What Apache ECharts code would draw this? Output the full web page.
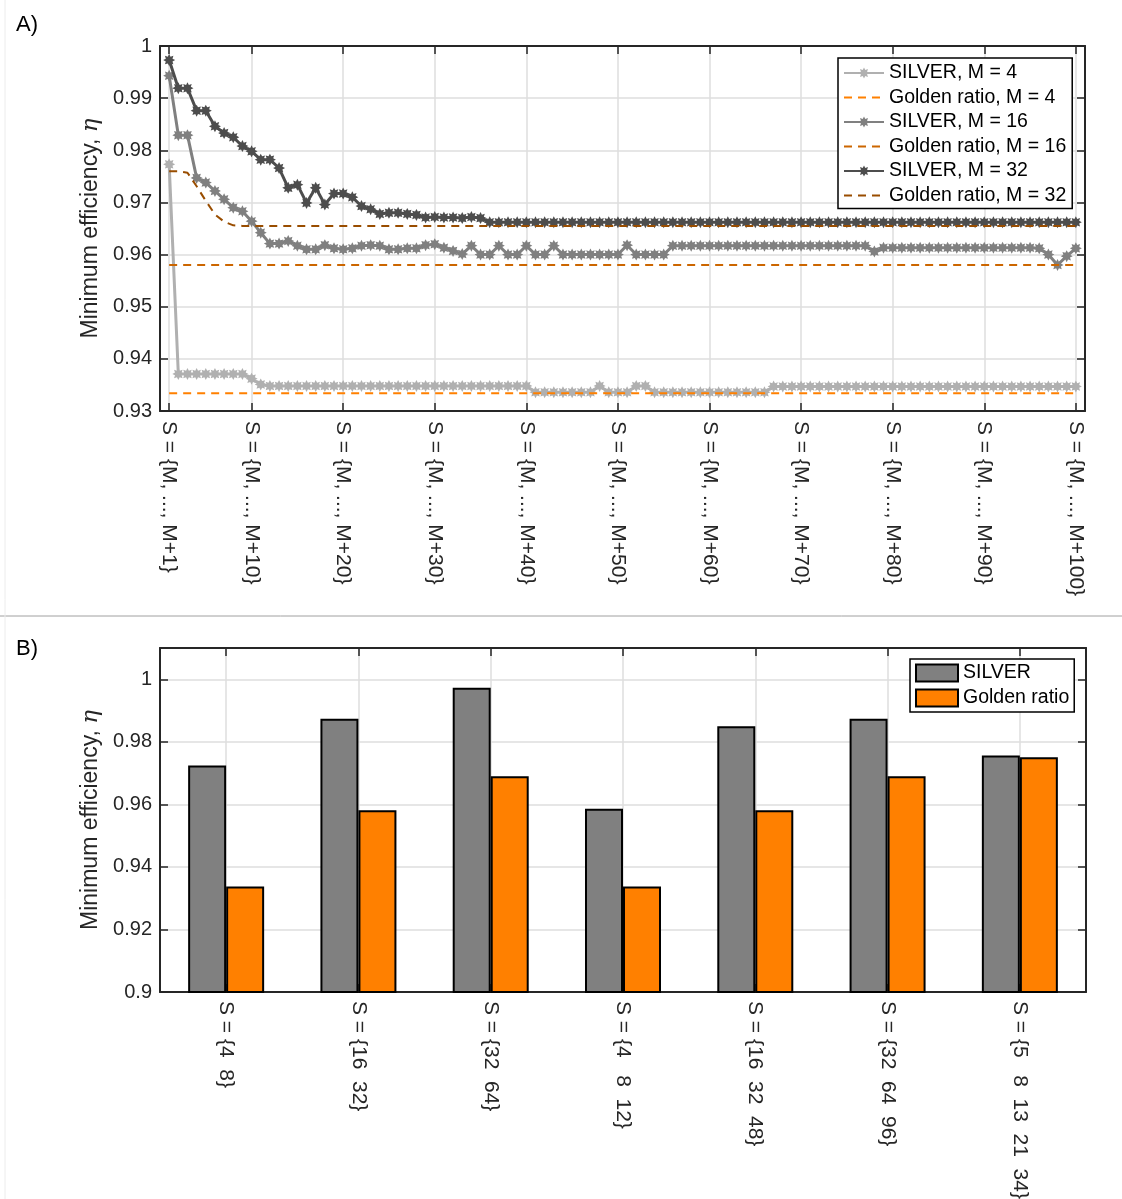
<!DOCTYPE html>
<html><head><meta charset="utf-8">
<script src="https://cdn.jsdelivr.net/npm/echarts@6/dist/echarts.min.js"></script>
<style>html,body{margin:0;padding:0;background:#fff}#c{width:1122px;height:1199px}</style>
</head><body><div id="c"></div>
<script>
// ---------- Panel A data (x = k, S = {M, ..., M+k}, k = 1..100) ----------
const xTickValues = [1, 10, 20, 30, 40, 50, 60, 70, 80, 90, 100];
const xTickLabels = ['S = {M, ..., M+1}', 'S = {M, ..., M+10}', 'S = {M, ..., M+20}', 'S = {M, ..., M+30}',
  'S = {M, ..., M+40}', 'S = {M, ..., M+50}', 'S = {M, ..., M+60}', 'S = {M, ..., M+70}',
  'S = {M, ..., M+80}', 'S = {M, ..., M+90}', 'S = {M, ..., M+100}'];

const silverM4 = [
0.9773,0.9371,0.9371,0.9371,0.9371,0.9371,0.9371,0.9371,0.9371,0.9362,
0.9351,0.9348,0.9348,0.9348,0.9348,0.9348,0.9348,0.9348,0.9348,0.9348,
0.9348,0.9348,0.9348,0.9348,0.9348,0.9348,0.9348,0.9348,0.9348,0.9348,
0.9348,0.9348,0.9348,0.9348,0.9348,0.9348,0.9348,0.9348,0.9348,0.9348,
0.9336,0.9336,0.9336,0.9336,0.9336,0.9336,0.9336,0.9348,0.9336,0.9336,
0.9336,0.9348,0.9348,0.9336,0.9336,0.9336,0.9336,0.9336,0.9336,0.9336,
0.9336,0.9336,0.9336,0.9336,0.9336,0.9336,0.9347,0.9347,0.9347,0.9347,
0.9347,0.9347,0.9347,0.9347,0.9347,0.9347,0.9347,0.9347,0.9347,0.9347,
0.9347,0.9347,0.9347,0.9347,0.9347,0.9347,0.9347,0.9347,0.9347,0.9347,
0.9347,0.9347,0.9347,0.9347,0.9347,0.9347,0.9347,0.9347,0.9347,0.9347];

const goldenM4 = [
0.9334,0.9334,0.9334,0.9334,0.9334,0.9334,0.9334,0.9334,0.9334,0.9334,
0.9334,0.9334,0.9334,0.9334,0.9334,0.9334,0.9334,0.9334,0.9334,0.9334,
0.9334,0.9334,0.9334,0.9334,0.9334,0.9334,0.9334,0.9334,0.9334,0.9334,
0.9334,0.9334,0.9334,0.9334,0.9334,0.9334,0.9334,0.9334,0.9334,0.9334,
0.9334,0.9334,0.9334,0.9334,0.9334,0.9334,0.9334,0.9334,0.9334,0.9334,
0.9334,0.9334,0.9334,0.9334,0.9334,0.9334,0.9334,0.9334,0.9334,0.9334,
0.9334,0.9334,0.9334,0.9334,0.9334,0.9334,0.9334,0.9334,0.9334,0.9334,
0.9334,0.9334,0.9334,0.9334,0.9334,0.9334,0.9334,0.9334,0.9334,0.9334,
0.9334,0.9334,0.9334,0.9334,0.9334,0.9334,0.9334,0.9334,0.9334,0.9334,
0.9334,0.9334,0.9334,0.9334,0.9334,0.9334,0.9334,0.9334,0.9334,0.9334];

const silverM16 = [
0.9943,0.9829,0.9829,0.9747,0.9738,0.9722,0.9706,0.9690,0.9683,0.9664,
0.9642,0.9621,0.9621,0.9626,0.9617,0.9610,0.9610,0.9618,0.9612,0.9610,
0.9612,0.9617,0.9618,0.9617,0.9610,0.9610,0.9612,0.9612,0.9618,0.9620,
0.9613,0.9607,0.9601,0.9617,0.9600,0.9600,0.9617,0.9600,0.9600,0.9617,
0.9600,0.9600,0.9617,0.9600,0.9600,0.9600,0.9600,0.9600,0.9600,0.9600,
0.9618,0.9600,0.9600,0.9600,0.9600,0.9617,0.9617,0.9617,0.9617,0.9617,
0.9617,0.9617,0.9617,0.9617,0.9617,0.9617,0.9617,0.9617,0.9617,0.9617,
0.9617,0.9617,0.9617,0.9617,0.9617,0.9617,0.9617,0.9606,0.9613,0.9613,
0.9613,0.9613,0.9613,0.9613,0.9613,0.9613,0.9613,0.9613,0.9613,0.9613,
0.9613,0.9613,0.9613,0.9613,0.9613,0.9612,0.9600,0.9580,0.9597,0.9612];

const goldenM16 = [
0.9580,0.9580,0.9580,0.9580,0.9580,0.9580,0.9580,0.9580,0.9580,0.9580,
0.9580,0.9580,0.9580,0.9580,0.9580,0.9580,0.9580,0.9580,0.9580,0.9580,
0.9580,0.9580,0.9580,0.9580,0.9580,0.9580,0.9580,0.9580,0.9580,0.9580,
0.9580,0.9580,0.9580,0.9580,0.9580,0.9580,0.9580,0.9580,0.9580,0.9580,
0.9580,0.9580,0.9580,0.9580,0.9580,0.9580,0.9580,0.9580,0.9580,0.9580,
0.9580,0.9580,0.9580,0.9580,0.9580,0.9580,0.9580,0.9580,0.9580,0.9580,
0.9580,0.9580,0.9580,0.9580,0.9580,0.9580,0.9580,0.9580,0.9580,0.9580,
0.9580,0.9580,0.9580,0.9580,0.9580,0.9580,0.9580,0.9580,0.9580,0.9580,
0.9580,0.9580,0.9580,0.9580,0.9580,0.9580,0.9580,0.9580,0.9580,0.9580,
0.9580,0.9580,0.9580,0.9580,0.9580,0.9580,0.9580,0.9580,0.9580,0.9580];

const silverM32 = [
0.9973,0.9919,0.9919,0.9876,0.9876,0.9846,0.9833,0.9825,0.9808,0.9798,
0.9782,0.9782,0.9766,0.9728,0.9734,0.9699,0.9728,0.9696,0.9717,0.9717,
0.9710,0.9693,0.9687,0.9678,0.9680,0.9680,0.9678,0.9676,0.9671,0.9672,
0.9671,0.9671,0.9670,0.9672,0.9670,0.9662,0.9662,0.9662,0.9662,0.9662,
0.9662,0.9662,0.9662,0.9662,0.9662,0.9662,0.9662,0.9662,0.9662,0.9662,
0.9662,0.9662,0.9662,0.9662,0.9662,0.9662,0.9662,0.9662,0.9662,0.9662,
0.9662,0.9662,0.9662,0.9662,0.9662,0.9662,0.9662,0.9662,0.9662,0.9662,
0.9662,0.9662,0.9662,0.9662,0.9662,0.9662,0.9662,0.9662,0.9662,0.9662,
0.9662,0.9662,0.9662,0.9662,0.9662,0.9662,0.9662,0.9662,0.9662,0.9662,
0.9662,0.9662,0.9662,0.9662,0.9662,0.9662,0.9662,0.9662,0.9662,0.9662];

const goldenM32 = [
0.9760,0.9760,0.9757,0.9731,0.9703,0.9677,0.9663,0.9656,0.9655,0.9655,
0.9655,0.9655,0.9655,0.9655,0.9655,0.9655,0.9655,0.9655,0.9655,0.9655,
0.9655,0.9655,0.9655,0.9655,0.9655,0.9655,0.9655,0.9655,0.9655,0.9655,
0.9655,0.9655,0.9655,0.9655,0.9655,0.9655,0.9655,0.9655,0.9655,0.9655,
0.9655,0.9655,0.9655,0.9655,0.9655,0.9655,0.9655,0.9655,0.9655,0.9655,
0.9655,0.9655,0.9655,0.9655,0.9655,0.9655,0.9655,0.9655,0.9655,0.9655,
0.9655,0.9655,0.9655,0.9655,0.9655,0.9655,0.9655,0.9655,0.9655,0.9655,
0.9655,0.9655,0.9655,0.9655,0.9655,0.9655,0.9655,0.9655,0.9655,0.9655,
0.9655,0.9655,0.9655,0.9655,0.9655,0.9655,0.9655,0.9655,0.9655,0.9655,
0.9655,0.9655,0.9655,0.9655,0.9655,0.9655,0.9655,0.9655,0.9655,0.9655];

// ---------- Panel B data ----------
const barCategories = ['S = {4  8}', 'S = {16  32}', 'S = {32  64}', 'S = {4   8  12}',
  'S = {16  32  48}', 'S = {32  64  96}', 'S = {5   8  13  21  34}'];
const barSilver = [0.9724, 0.9874, 0.9973, 0.9586, 0.9850, 0.9874, 0.9756];
const barGolden = [0.9337, 0.9581, 0.9690, 0.9337, 0.9581, 0.9690, 0.9751];
const barCenters = [1, 2, 3, 4, 5, 6, 7];
const yTicksB = [0.9, 0.92, 0.94, 0.96, 0.98, 1.0];

// ---------- styling ----------
const FONT = "'Liberation Sans', Arial, Helvetica, sans-serif";
const TXT = '#262626';
const GRIDC = '#dedede';

function starPath(n, rIn) {
  let d = '';
  for (let i = 0; i < 2 * n; i++) {
    const a = i * Math.PI / n - Math.PI / 2;
    const r = (i % 2) ? rIn : 1;
    d += (i ? 'L' : 'M') + (r * Math.cos(a)).toFixed(3) + ' ' + (r * Math.sin(a)).toFixed(3) + ' ';
  }
  return 'path://' + d + 'Z';
}
const STAR = starPath(8, 0.6);

const fmtNum = v => String(+(+v).toFixed(2));
const nameCfg = {
  name: 'Minimum efficiency, {e|η}',
  nameLocation: 'middle',
  nameGap: 48,
  nameTextStyle: {
    fontSize: 23, fontFamily: FONT, color: TXT,
    rich: { e: { fontSize: 23, fontStyle: 'italic', fontFamily: "'DejaVu Serif', serif", color: TXT } }
  }
};
const frameLine = { show: true, onZero: false, lineStyle: { color: TXT, width: 2 } };
const tickIn = { show: true, inside: true, length: 8, lineStyle: { color: TXT, width: 1.5 } };

function silverSeries(name, vals, color, z) {
  return {
    type: 'line', name, xAxisIndex: 0, yAxisIndex: 0, z,
    data: vals.map((v, i) => [i + 1, v]),
    symbol: STAR, symbolSize: 12, showSymbol: true,
    lineStyle: { color, width: 3 }, itemStyle: { color },
    emphasis: { disabled: true }, animation: false
  };
}
function goldenSeries(name, vals, color, z) {
  return {
    type: 'line', name, xAxisIndex: 0, yAxisIndex: 0, z,
    data: vals.map((v, i) => [i + 1, v]),
    symbol: 'none', showSymbol: false,
    lineStyle: { color, width: 2, type: [8, 6] }, itemStyle: { color },
    emphasis: { disabled: true }, animation: false
  };
}
const hiddenSymbol = { opacity: 0 };

const chart = echarts.init(document.getElementById('c'), null, { renderer: 'canvas' });
chart.setOption({
  backgroundColor: '#fff',
  animation: false,
  textStyle: { fontFamily: FONT },
  title: [
    { text: 'A)', left: 16, top: 14, padding: 0, textStyle: { fontSize: 22, fontWeight: 'normal', color: '#000', fontFamily: FONT } },
    { text: 'B)', left: 16, top: 638, padding: 0, textStyle: { fontSize: 22, fontWeight: 'normal', color: '#000', fontFamily: FONT } }
  ],
  graphic: [
    { type: 'line', shape: { x1: 0, y1: 616, x2: 1122, y2: 616 }, style: { stroke: '#a0a0a0', lineWidth: 1 }, silent: true },
    { type: 'line', shape: { x1: 5, y1: 0, x2: 5, y2: 1199 }, style: { stroke: '#ececec', lineWidth: 1 }, silent: true }
  ],
  grid: [
    { left: 160, top: 46, width: 925, height: 365, outerBoundsMode: 'none', containLabel: false },
    { left: 160, top: 648, width: 926, height: 344, outerBoundsMode: 'none', containLabel: false }
  ],
  legend: [
    {
      orient: 'vertical', left: 838, top: 58,
      data: [
        { name: 'SILVER, M = 4' }, { name: 'Golden ratio, M = 4', itemStyle: hiddenSymbol },
        { name: 'SILVER, M = 16' }, { name: 'Golden ratio, M = 16', itemStyle: hiddenSymbol },
        { name: 'SILVER, M = 32' }, { name: 'Golden ratio, M = 32', itemStyle: hiddenSymbol }
      ],
      itemWidth: 40, itemHeight: 14, itemGap: 4.5,
      padding: [5, 6, 3, 5],
      backgroundColor: '#fff', borderColor: '#000', borderWidth: 1.5,
      textStyle: { fontSize: 19.5, color: '#000', fontFamily: FONT, lineHeight: 20 },
      selectedMode: false
    },
    {
      orient: 'vertical', left: 910, top: 659,
      data: ['SILVER', 'Golden ratio'],
      icon: 'rect', itemWidth: 42, itemHeight: 17, itemGap: 5,
      padding: [4, 5, 4, 5],
      backgroundColor: '#fff', borderColor: '#000', borderWidth: 1.5,
      itemStyle: { borderColor: '#000', borderWidth: 2 },
      textStyle: { fontSize: 19.5, color: '#000', fontFamily: FONT, lineHeight: 20 },
      selectedMode: false
    }
  ],
  xAxis: [
    { // A bottom
      type: 'value', gridIndex: 0, position: 'bottom', min: 0, max: 101,
      axisLine: frameLine,
      axisTick: Object.assign({}, tickIn, { customValues: xTickValues }),
      axisLabel: {
        customValues: xTickValues, rotate: -90, margin: 10, fontSize: 21, color: TXT, fontFamily: FONT,
        formatter: v => { const i = xTickValues.indexOf(+v); return i >= 0 ? xTickLabels[i] : ''; }
      },
      splitLine: { show: true, lineStyle: { color: GRIDC, width: 1.5 } }
    },
    { // A top (mirror)
      type: 'value', gridIndex: 0, position: 'top', min: 0, max: 101,
      axisLine: frameLine,
      axisTick: Object.assign({}, tickIn, { customValues: xTickValues }),
      axisLabel: { show: false, customValues: xTickValues },
      splitLine: { show: false }
    },
    { // B bottom (categories)
      type: 'category', gridIndex: 1, position: 'bottom', data: barCategories,
      axisLine: frameLine,
      axisTick: Object.assign({}, tickIn, { alignWithLabel: true }),
      axisLabel: { interval: 0, rotate: -90, margin: 9, fontSize: 21, color: TXT, fontFamily: FONT },
      splitLine: { show: false }
    },
    { // B top (mirror + vertical grid lines at category centers)
      type: 'value', gridIndex: 1, position: 'top', min: 0.5, max: 7.5,
      axisLine: frameLine,
      axisTick: Object.assign({}, tickIn, { customValues: barCenters }),
      axisLabel: { show: false, customValues: barCenters },
      splitLine: { show: true, lineStyle: { color: GRIDC, width: 1.5 } }
    }
  ],
  yAxis: [
    Object.assign({ // A left
      type: 'value', gridIndex: 0, position: 'left', min: 0.93, max: 1.0, interval: 0.01,
      axisLine: frameLine, axisTick: tickIn,
      axisLabel: { margin: 8, fontSize: 20, color: TXT, fontFamily: FONT, formatter: fmtNum },
      splitLine: { show: true, lineStyle: { color: GRIDC, width: 1.5 } }
    }, nameCfg),
    { // A right
      type: 'value', gridIndex: 0, position: 'right', min: 0.93, max: 1.0, interval: 0.01,
      axisLine: frameLine, axisTick: tickIn, axisLabel: { show: false }, splitLine: { show: false }
    },
    Object.assign({ // B left
      type: 'value', gridIndex: 1, position: 'left', min: 0.9, max: 1.01, interval: 0.02,
      axisLine: frameLine,
      axisTick: Object.assign({}, tickIn, { customValues: yTicksB }),
      axisLabel: { customValues: yTicksB, margin: 8, fontSize: 20, color: TXT, fontFamily: FONT, formatter: fmtNum },
      splitLine: { show: true, lineStyle: { color: GRIDC, width: 1.5 } }
    }, nameCfg),
    { // B right
      type: 'value', gridIndex: 1, position: 'right', min: 0.9, max: 1.01, interval: 0.02,
      axisLine: frameLine,
      axisTick: Object.assign({}, tickIn, { customValues: yTicksB }),
      axisLabel: { show: false, customValues: yTicksB }, splitLine: { show: false }
    }
  ],
  series: [
    silverSeries('SILVER, M = 4', silverM4, '#b0b0b0', 3),
    goldenSeries('Golden ratio, M = 4', goldenM4, '#ff8000', 4),
    silverSeries('SILVER, M = 16', silverM16, '#808080', 5),
    goldenSeries('Golden ratio, M = 16', goldenM16, '#cc6600', 6),
    silverSeries('SILVER, M = 32', silverM32, '#4d4d4d', 7),
    goldenSeries('Golden ratio, M = 32', goldenM32, '#994d00', 8),
    {
      type: 'bar', name: 'SILVER', xAxisIndex: 2, yAxisIndex: 2, data: barSilver,
      barWidth: 38, barGap: '0%',
      itemStyle: { color: '#808080', borderColor: '#000', borderWidth: 2 },
      emphasis: { disabled: true }, animation: false
    },
    {
      type: 'bar', name: 'Golden ratio', xAxisIndex: 2, yAxisIndex: 2, data: barGolden,
      barWidth: 38, barGap: '0%',
      itemStyle: { color: '#ff8000', borderColor: '#000', borderWidth: 2 },
      emphasis: { disabled: true }, animation: false
    }
  ]
});
</script>
</body></html>
